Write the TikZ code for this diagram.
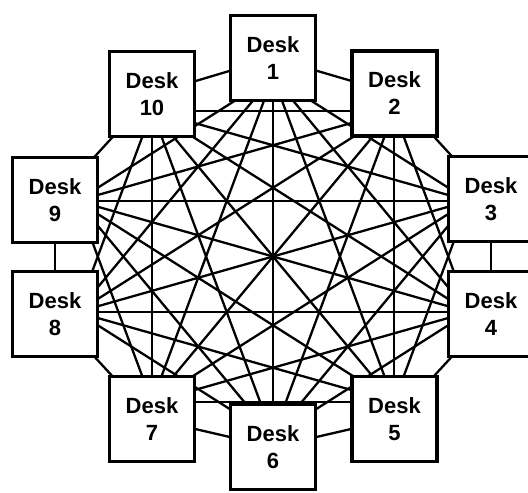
\documentclass[tikz,border=0pt]{standalone}
\usepackage{fontspec}
\setmainfont{Liberation Sans}
\usetikzlibrary{backgrounds}
\begin{document}
\begin{tikzpicture}[x=1pt,y=-1pt,
  desk/.style={draw=black, line width=3.2pt, fill=white,
    minimum width=85pt, minimum height=85pt, inner sep=0pt, align=center,
    font=\bfseries\fontsize{22}{27}\selectfont},
  link/.style={line width=2.3pt, draw=black}]
\useasboundingbox (0,0) rectangle (528,493);

% the ten desks, clockwise from the top
\node[desk] (d1)  at (273,58)    {Desk\\1};
\node[desk] (d2)  at (394.5,93.5){Desk\\2};
\node[desk] (d3)  at (491,199)   {Desk\\3};
\node[desk] (d4)  at (491,314)   {Desk\\4};
\node[desk] (d5)  at (394.5,419) {Desk\\5};
\node[desk] (d6)  at (273,447)   {Desk\\6};
\node[desk] (d7)  at (152,419)   {Desk\\7};
\node[desk] (d8)  at (55,314)    {Desk\\8};
\node[desk] (d9)  at (55,200)    {Desk\\9};
\node[desk] (d10) at (152,94)    {Desk\\10};

% cable ends inside each desk, on an ellipse round the middle
\foreach \k in {1,...,10}
  \coordinate (p\k) at ({273+206*sin(36*(\k-1))},{256.5-180*cos(36*(\k-1))});

% every desk cabled to every other desk
\begin{scope}[on background layer]
\foreach \i in {1,...,9} {
  \pgfmathtruncatemacro\nexti{\i+1}
  \foreach \j in {\nexti,...,10} {
    \pgfmathtruncatemacro\gap{\j-\i}
    \ifnum\gap=1
      \draw[link] (d\i.center) -- (d\j.center);
    \else\ifnum\gap=9
      \draw[link] (d\i.center) -- (d\j.center);
    \else
      \draw[link] (p\i) -- (p\j);
    \fi\fi
  }
}
\end{scope}
\end{tikzpicture}
\end{document}
